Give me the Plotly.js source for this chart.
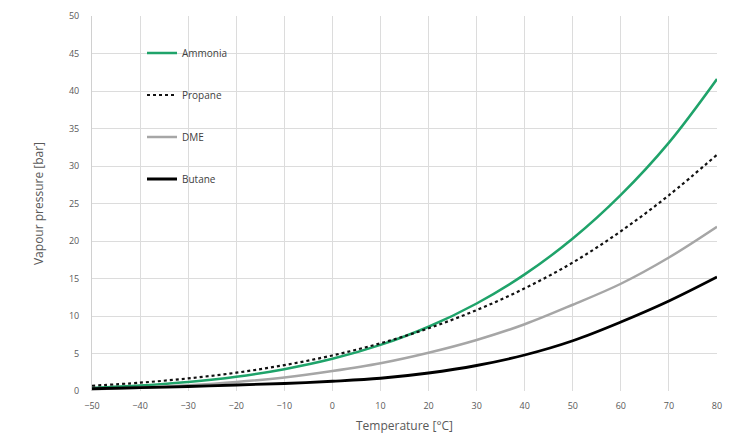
<!DOCTYPE html>
<html>
<head>
<meta charset="utf-8">
<script src="https://cdn.plot.ly/plotly-3.0.1.min.js"></script>
<style>html,body{margin:0;padding:0;background:#fff;}#chart{width:734px;height:437px;}</style>
</head>
<body>
<div id="chart"></div>
<script>
var temperature = [-50, -40, -30, -20, -10, 0, 10, 20, 30, 40, 50, 60, 70, 80];
var ammonia = [0.41, 0.72, 1.19, 1.90, 2.91, 4.29, 6.15, 8.57, 11.67, 15.55, 20.33, 26.15, 33.12, 41.6];
var propane = [0.70, 1.11, 1.68, 2.44, 3.45, 4.74, 6.36, 8.36, 10.79, 13.69, 17.13, 21.3, 26.1, 31.5];
var dme = [0.26, 0.44, 0.76, 1.2, 1.8, 2.66, 3.7, 5.1, 6.8, 8.9, 11.5, 14.3, 17.8, 21.9];
var butane = [0.3, 0.45, 0.6, 0.8, 1.0, 1.3, 1.7, 2.4, 3.4, 4.8, 6.7, 9.2, 12.0, 15.2];
var seriesNames = ['Ammonia', 'Propane', 'DME', 'Butane'];

var traces = [
  {x: temperature, y: ammonia, name: seriesNames[0], legendgroup: 'a', mode: 'lines', line: {color: '#1fa36a', width: 2.5, shape: 'spline'}},
  {x: temperature, y: propane, name: seriesNames[1], legendgroup: 'b', mode: 'lines', line: {color: '#111111', width: 2.2, dash: 'dot', shape: 'spline'}},
  {x: temperature, y: dme, name: seriesNames[2], legendgroup: 'c', mode: 'lines', line: {color: '#a6a6a6', width: 2.5, shape: 'spline'}},
  {x: temperature, y: butane, name: seriesNames[3], legendgroup: 'd', mode: 'lines', line: {color: '#000000', width: 2.8, shape: 'spline'}}
];

var layout = {
  width: 734, height: 437,
  margin: {l: 92, r: 17, t: 16, b: 46},
  paper_bgcolor: '#ffffff', plot_bgcolor: '#ffffff',
  font: {family: 'Open Sans, Liberation Sans, sans-serif', color: '#595959', size: 9},
  showlegend: true,
  legend: {x: 0.08, y: 0.94, xanchor: 'left', yanchor: 'top', bgcolor: 'rgba(0,0,0,0)',
           font: {size: 10, color: '#404040'}, tracegroupgap: 23, itemwidth: 30},
  xaxis: {
    range: [-50, 80], dtick: 10, tick0: -50, showgrid: true, gridcolor: '#dcdcdc', gridwidth: 1,
    zeroline: false, showline: false, ticks: '', ticklen: 0, ticklabelstandoff: 8,
    tickfont: {size: 9, color: '#595959'},
    title: {text: 'Temperature [°C]', font: {size: 12, color: '#595959'}, standoff: 10}
  },
  yaxis: {
    range: [0, 50], dtick: 5, showgrid: true, gridcolor: '#dcdcdc', gridwidth: 1,
    zeroline: false, showline: true, linecolor: '#d0d0d0', ticks: '', ticklabelstandoff: 10,
    tickfont: {size: 9, color: '#595959'},
    title: {text: 'Vapour pressure [bar]', font: {size: 12, color: '#595959'}, standoff: 22}
  }
};

Plotly.newPlot('chart', traces, layout, {displayModeBar: false, staticPlot: true});
</script>
</body>
</html>
